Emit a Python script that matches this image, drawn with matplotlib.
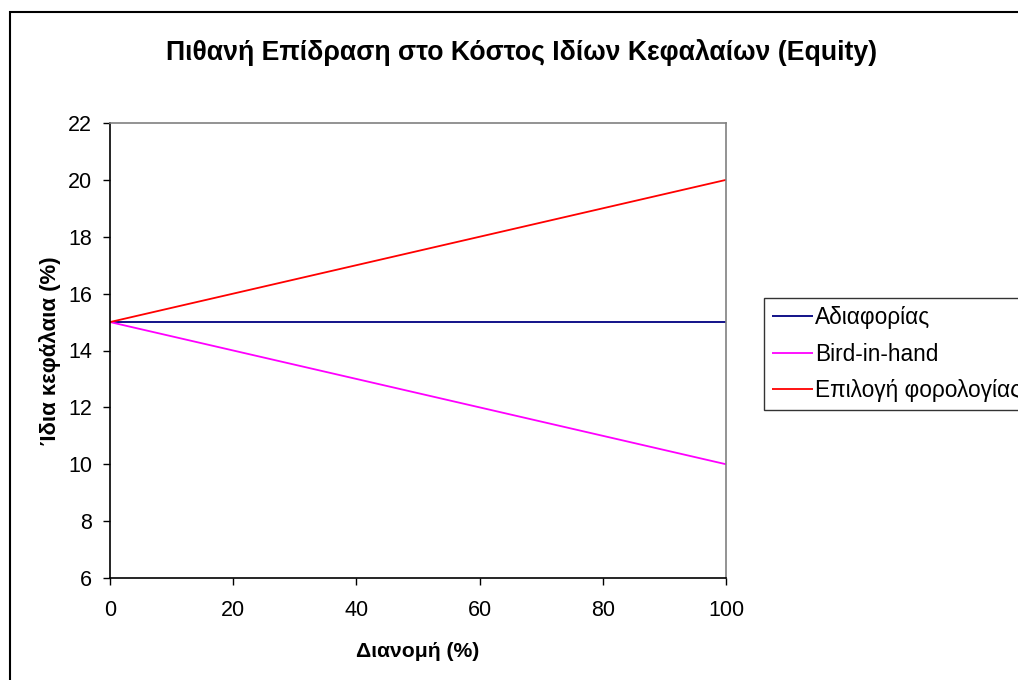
import matplotlib
matplotlib.use("Agg")
import matplotlib.pyplot as plt
from matplotlib.patches import Rectangle

plt.rcParams["font.family"] = ["Liberation Sans", "DejaVu Sans"]

# data
distribution = [0, 100]
indifference = [15, 15]
bird_in_hand = [15, 10]
tax_pref = [15, 20]
series_names = ["Αδιαφορίας", "Bird-in-hand", "Επιλογή φορολογίας"]
series_colors = ["#000080", "#FF00FF", "#FF0000"]
x_ticks = [0, 20, 40, 60, 80, 100]
y_ticks = [6, 8, 10, 12, 14, 16, 18, 20, 22]

fig = plt.figure(figsize=(10.18, 6.8), dpi=100)
fig.patch.set_facecolor("white")

# outer chart frame (right and bottom edges fall outside the picture)
fig.patches.append(Rectangle((10 / 1018, -0.1), 1.2, 1 - 12 / 680 + 0.1,
                             transform=fig.transFigure, fill=False,
                             edgecolor="black", lw=1.5))

ax = fig.add_axes([110 / 1018, 1 - 578 / 680, 616 / 1018, 455 / 680])
for ys, name, c in zip([indifference, bird_in_hand, tax_pref], series_names, series_colors):
    ax.plot(distribution, ys, color=c, lw=1.3, label=name, solid_capstyle="butt")

ax.set_xlim(0, 100)
ax.set_ylim(6, 22)
ax.set_xticks(x_ticks)
ax.set_yticks(y_ticks)
ax.tick_params(direction="out", length=5, width=1, labelsize=15.5, colors="black")
ax.tick_params(axis="y", pad=8)
ax.tick_params(axis="x", pad=11)
ax.spines["left"].set_color("black")
ax.spines["bottom"].set_color("black")
ax.spines["top"].set_color("#808080")
ax.spines["right"].set_color("#808080")
for s in ax.spines.values():
    s.set_linewidth(1.2)

ax.set_xlabel("Διανομή (%)", fontsize=15.2, fontweight="bold", labelpad=15)
ax.set_ylabel("Ίδια κεφάλαια (%)", fontsize=16, fontweight="bold", labelpad=5)

fig.text(522 / 1018, 1 - 53 / 680, "Πιθανή Επίδραση στο Κόστος Ιδίων Κεφαλαίων (Equity)",
         ha="center", va="center", fontsize=19.2, fontweight="bold")

leg = ax.legend(loc="upper left", bbox_to_anchor=(764 / 1018, 1 - 298 / 680),
                bbox_transform=fig.transFigure, fontsize=16.3, frameon=True,
                fancybox=False, handlelength=1.8, handletextpad=0.1,
                borderpad=0.35, labelspacing=0.6, borderaxespad=0)
leg.get_frame().set_edgecolor("black")
leg.get_frame().set_linewidth(1.0)

fig.savefig("out.png", dpi=100, facecolor="white")
